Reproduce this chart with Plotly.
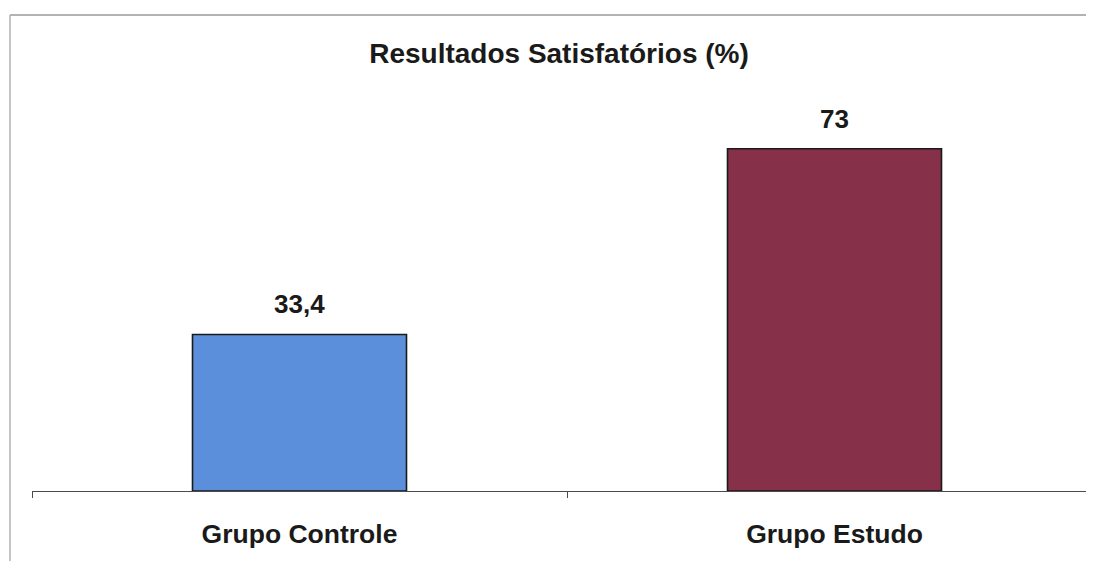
import plotly.graph_objects as go

categories = ["Grupo Controle", "Grupo Estudo"]
values = [33.4, 73]
value_labels = ["33,4", "73"]
bar_colors = ["#5B8FDB", "#86304A"]
title_text = "Resultados Satisfatórios (%)"

# body margin of the page is 8px; keep the figure inside the window
OFF = 8
FW, FH = 1094 - 2 * OFF, 569 - 2 * OFF
L, T = 32 - OFF, 116 - OFF
axis_y = 491 - OFF
B = FH - axis_y
R = 0
plot_w = FW - L - R
plot_h = FH - T - B
cat_px = 535.0

def px_x(p):
    return (p - OFF - L) / plot_w

def px_y(p):
    return (axis_y - (p - OFF)) / plot_h

FONT = "Liberation Sans, Arial"

fig = go.Figure(go.Bar(
    x=categories, y=values, width=0.4,
    marker=dict(color=bar_colors, line=dict(color="#1a1a1a", width=1.6)),
    hoverinfo="skip",
))

annotations = [
    dict(x=c, y=v, xref="x", yref="y", text=t, showarrow=False,
         yanchor="middle", xanchor="center", yshift=30,
         font=dict(family=FONT, size=26, color="#1a1a1a", weight="bold"))
    for c, v, t in zip(categories, values, value_labels)
]

fig.update_layout(
    width=FW, height=FH,
    margin=dict(l=L, r=R, t=T, b=B, pad=0),
    paper_bgcolor="white", plot_bgcolor="white",
    showlegend=False,
    title=dict(text=title_text, x=px_x(559), xref="paper", y=1 - (53 - OFF) / FH, yref="container",
               xanchor="center", yanchor="middle",
               font=dict(family=FONT, size=28, color="#1a1a1a", weight="bold")),
    xaxis=dict(range=[-0.5, -0.5 + plot_w / cat_px], showline=True, linecolor="#4a4a4a", linewidth=1.3,
               ticks="outside", tickson="boundaries", ticklen=6, tickcolor="#4a4a4a",
               ticklabelstandoff=19, showgrid=False,
               tickfont=dict(family=FONT, size=26.5, color="#1a1a1a", weight="bold")),
    yaxis=dict(range=[0, 80], visible=False, showgrid=False),
    annotations=annotations,
    shapes=[
        dict(type="line", xref="paper", yref="paper", x0=px_x(10), x1=1.0, y0=px_y(15), y1=px_y(15),
             line=dict(color="#9a9a9a", width=1.5)),
        dict(type="line", xref="paper", yref="paper", x0=px_x(10), x1=px_x(10), y0=px_y(15), y1=px_y(569),
             line=dict(color="#b0b0b0", width=1.5)),
    ],
)

fig.write_html("out.html")
